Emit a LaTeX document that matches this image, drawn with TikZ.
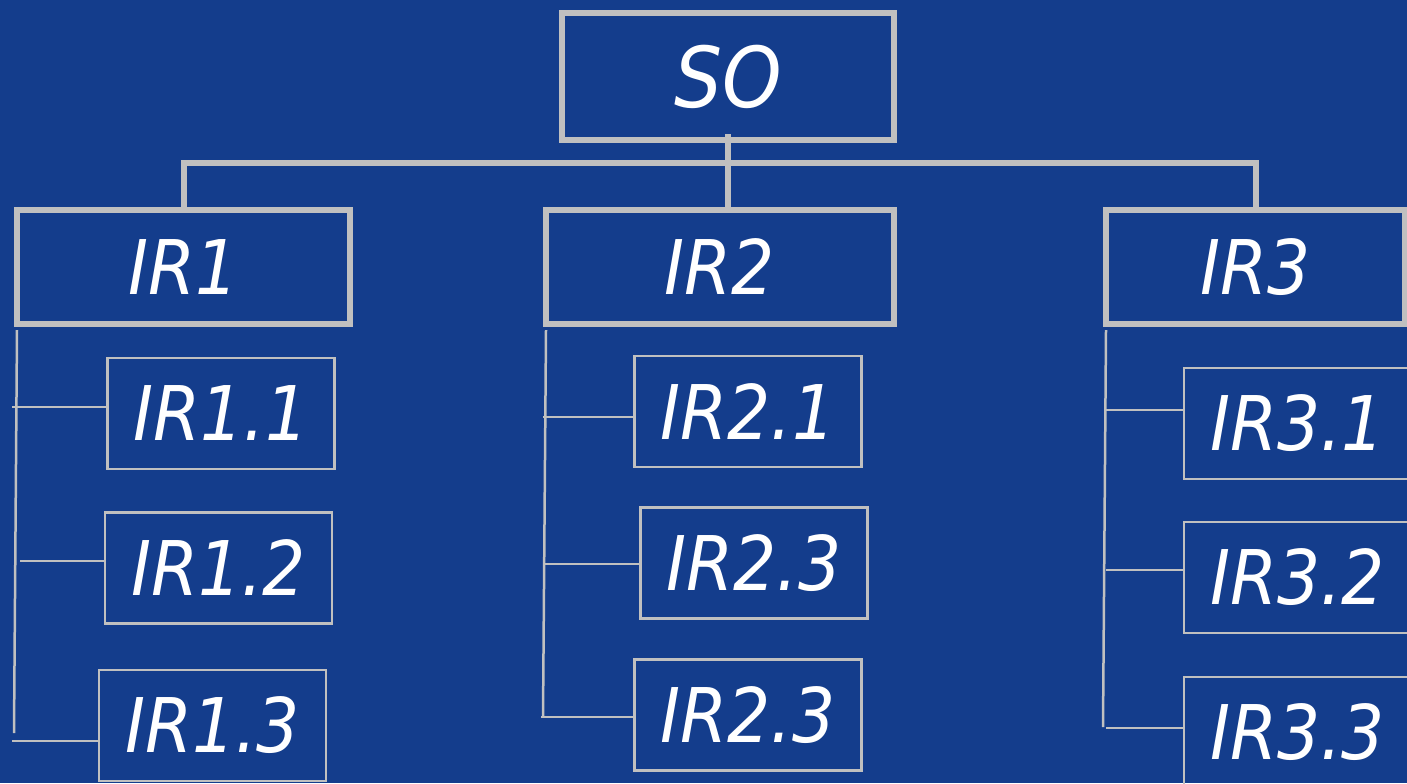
\documentclass[tikz,border=0pt]{standalone}
\usepackage{fontspec}
\setmainfont{DejaVu Sans Condensed}
\definecolor{slideblue}{RGB}{20,61,140}
\definecolor{linegray}{RGB}{192,192,192}

\begin{document}
\begin{tikzpicture}[x=0.5pt,y=-0.5pt,
        box/.style={draw=linegray,line width=3pt,inner sep=0pt,outer sep=0pt,text=white,
            font=\fontsize{37.7}{40}\selectfont\itshape},
        subbox/.style={box,line width=1.25pt,minimum width=113.5pt,minimum height=55.5pt},
        trunk/.style={draw=linegray,line width=3pt},
        branch/.style={draw=linegray,line width=1.25pt}]
        \useasboundingbox (0,0) rectangle (1407,783);
        \fill[slideblue] (0,0) rectangle (1407,783);
        \clip (0,0) rectangle (1407,783);
        % top levels
        \node[box,minimum width=166pt,minimum height=63.5pt,
            font=\fontsize{42}{44}\selectfont\itshape] (SO) at (728,76.5) {SO};
        \node[box,minimum width=166.5pt,minimum height=57pt] (IR1) at (183.5,267) {IR1};
        \node[box,minimum width=174pt,minimum height=57pt] (IR2) at (720,267) {IR2};
        \node[box,minimum width=149.5pt,minimum height=57pt] (IR3) at (1255.5,267) {IR3};
        % sub results
        \node[subbox] (IR11) at (221,413.5) {IR1.1};
        \node[subbox] (IR12) at (218.5,568) {IR1.2};
        \node[subbox] (IR13) at (212.5,725.5) {IR1.3};
        \node[subbox] (IR21) at (748,411.5) {IR2.1};
        \node[subbox] (IR22) at (754,563) {IR2.3};
        \node[subbox] (IR23) at (748,715) {IR2.3};
        \node[subbox] (IR31) at (1297.5,423.5) {IR3.1};
        \node[subbox] (IR32) at (1297.5,577.5) {IR3.2};
        \node[subbox] (IR33) at (1297.5,732.5) {IR3.3};
        % bus
        \coordinate (bus) at (0,163);
        \draw[trunk] (IR1.north) |- (SO.south |- bus) -| (IR3.north);
        \draw[trunk] ([yshift=3pt]SO.south) -- (SO.south |- IR2.north);
        % trunks
        \coordinate (e1) at (14,733);
        \coordinate (e2) at (543,717);
        \coordinate (e3) at (1103,727);
        \draw[branch] ([yshift=-3pt]IR1.south west) -- (e1);
        \draw[branch] ([yshift=-3pt]IR2.south west) -- (e2);
        \draw[branch] ([yshift=-3pt]IR3.south west) -- (e3);
        % branches
        \coordinate (b11) at (12,407);
        \coordinate (b12) at (20,561);
        \coordinate (b13) at (12,741);
        \coordinate (b21) at (543,417);
        \coordinate (b22) at (545,564);
        \coordinate (b23) at (541,717);
        \coordinate (b31) at (1106,410);
        \coordinate (b32) at (1106,570);
        \coordinate (b33) at (1106,728);
        \draw[branch] (b11) -- (b11 -| IR11.west);
        \draw[branch] (b12) -- (b12 -| IR12.west);
        \draw[branch] (b13) -- (b13 -| IR13.west);
        \draw[branch] (b21) -- (b21 -| IR21.west);
        \draw[branch] (b22) -- (b22 -| IR22.west);
        \draw[branch] (b23) -- (b23 -| IR23.west);
        \draw[branch] (b31) -- (b31 -| IR31.west);
        \draw[branch] (b32) -- (b32 -| IR32.west);
        \draw[branch] (b33) -- (b33 -| IR33.west);
    \end{tikzpicture}
\end{document}
